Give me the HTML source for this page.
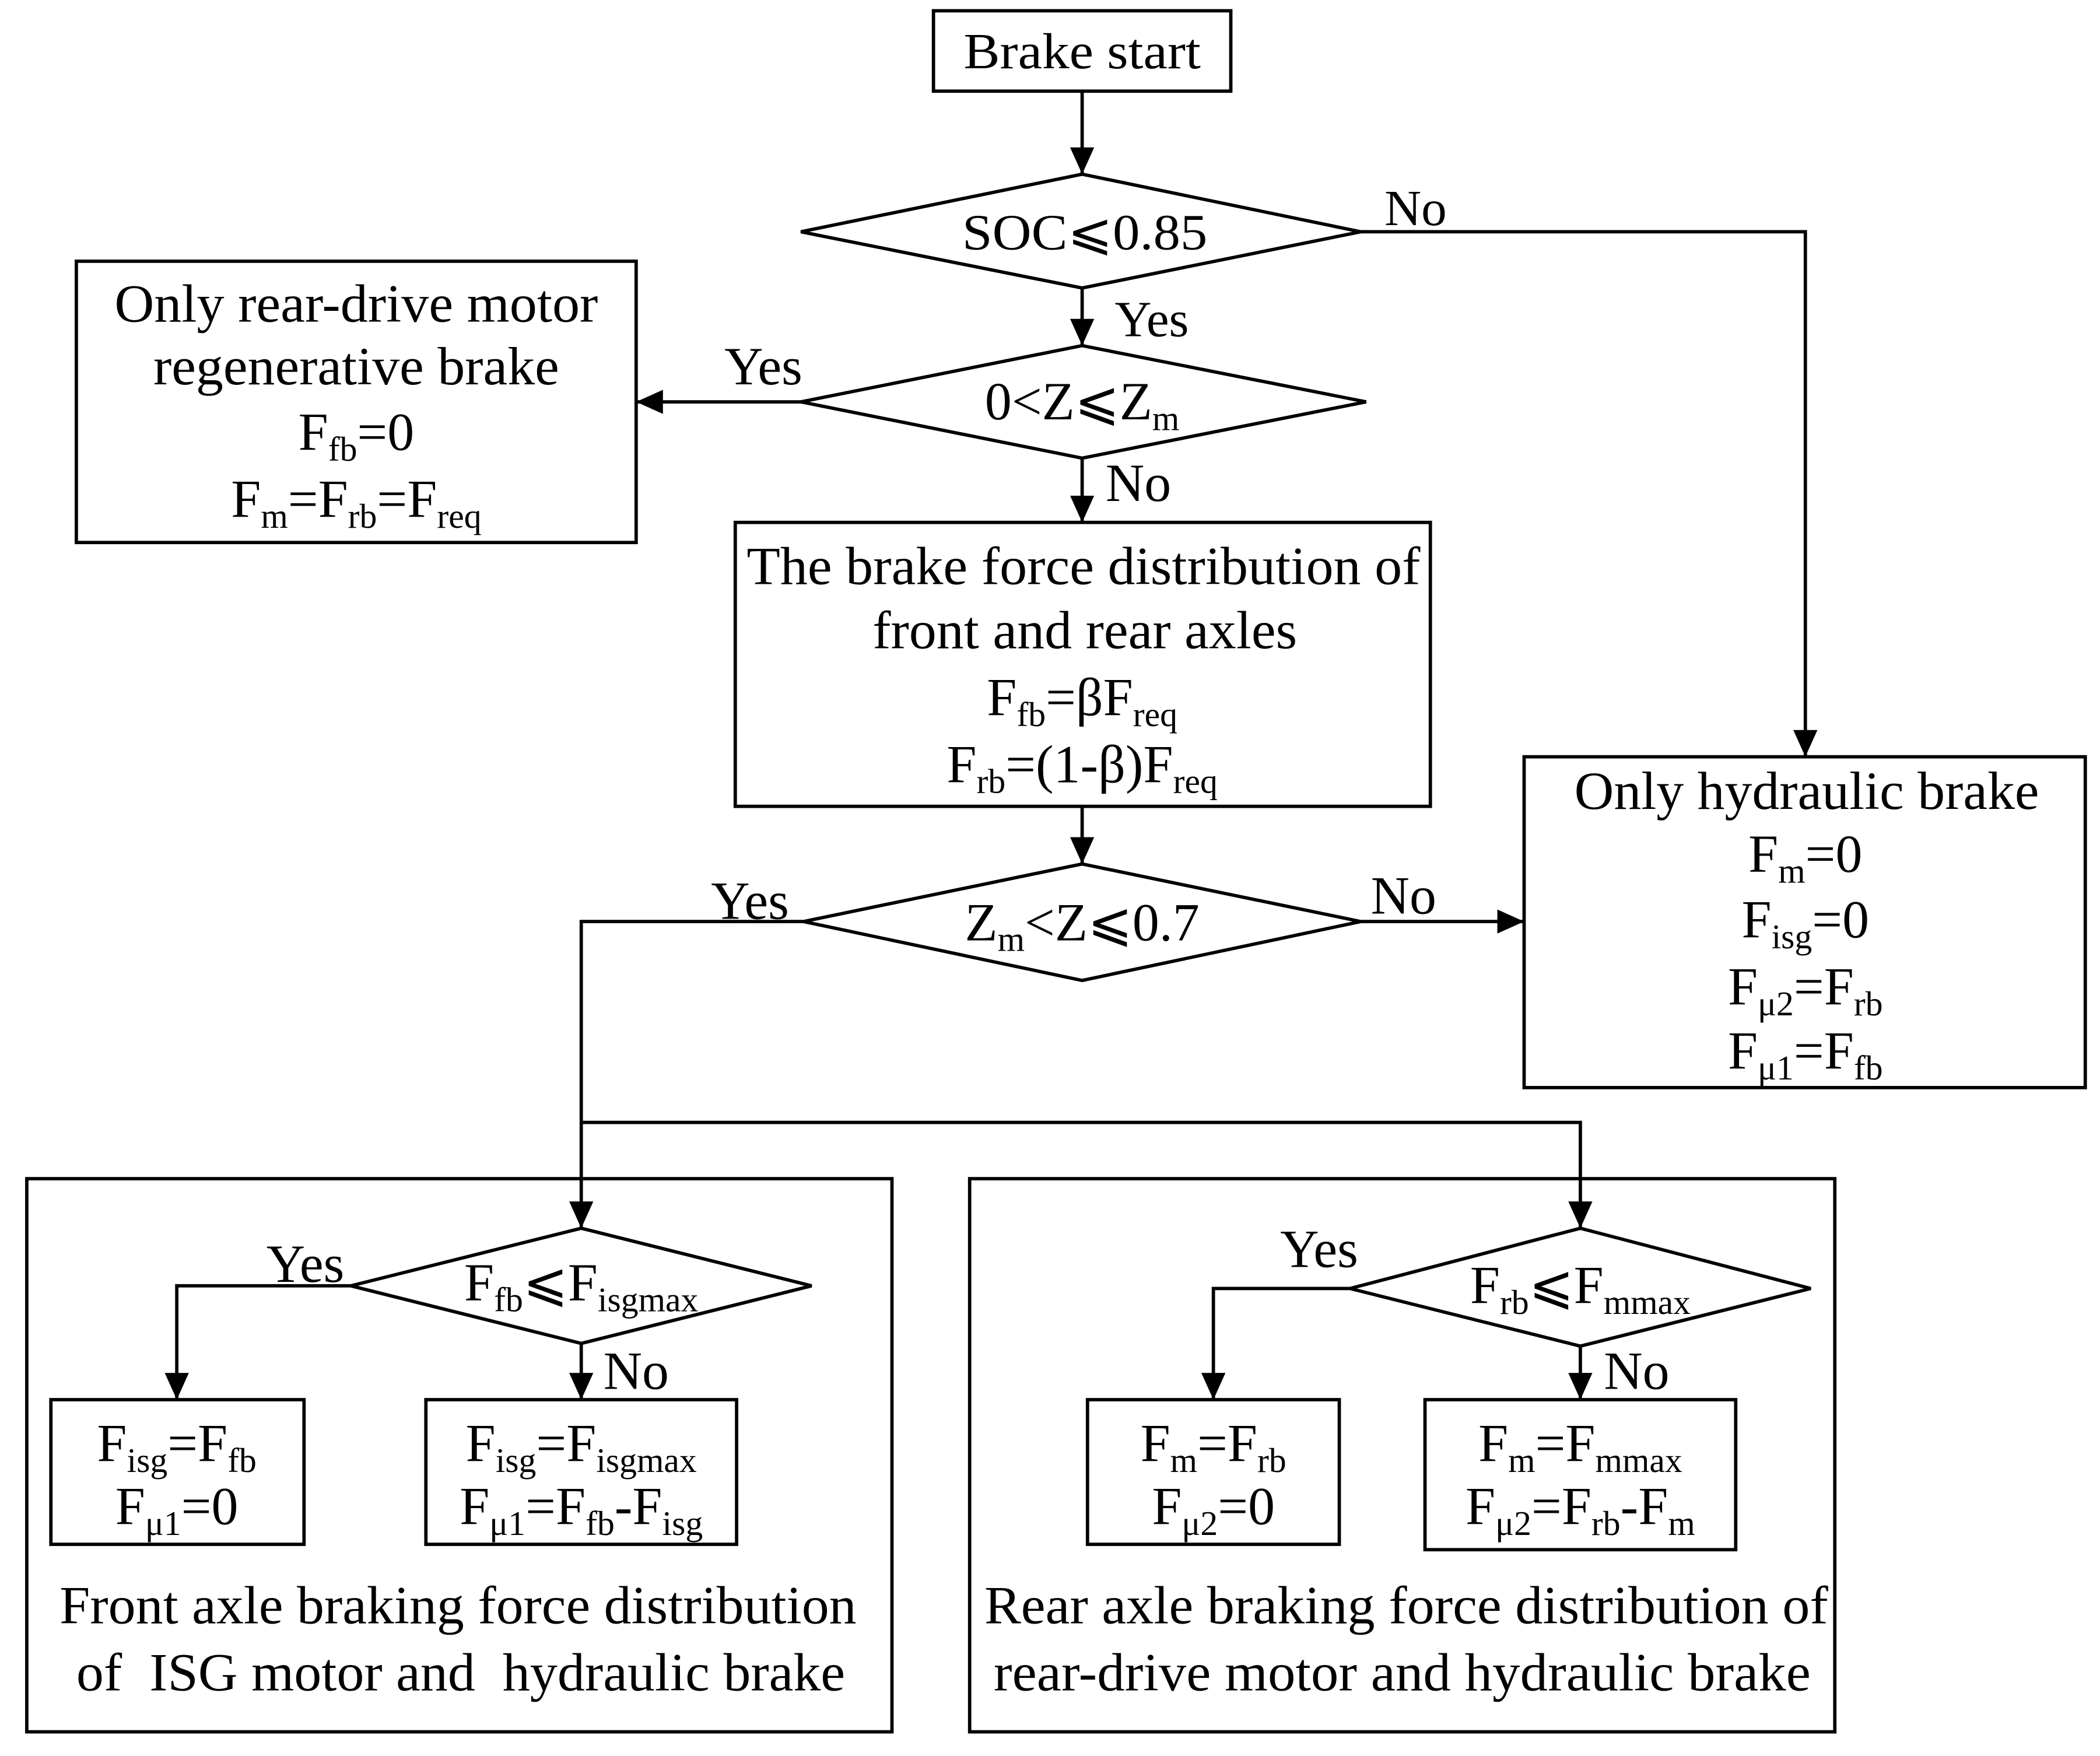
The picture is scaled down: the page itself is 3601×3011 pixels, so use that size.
<!DOCTYPE html>
<html><head><meta charset="utf-8"><style>html,body{margin:0;padding:0;background:#fff}svg{display:block}</style></head><body>
<svg xmlns="http://www.w3.org/2000/svg" width="3601" height="3011" viewBox="0 0 1568 1311">
<defs><marker id="m" viewBox="0 0 10 10" refX="10" refY="5" markerWidth="20" markerHeight="18" markerUnits="userSpaceOnUse" orient="auto" preserveAspectRatio="none"><path d="M0,0L10,5L0,10z" fill="#000"/></marker></defs>
<g fill="none" stroke="#000" stroke-width="2.5">
<rect x="697" y="8" width="222" height="60"/>
<polygon points="598,173 808,130 1016,173 808,215"/>
<polygon points="598,300 808,258 1020,300 808,342"/>
<rect x="57" y="195" width="418" height="210"/>
<rect x="549" y="390" width="519" height="212"/>
<polygon points="600,688 808,645 1016,688 808,732"/>
<rect x="1138" y="565" width="419" height="247"/>
<rect x="20" y="880" width="646" height="413"/>
<rect x="724" y="880" width="646" height="413"/>
<polygon points="262,960 434,917 606,960 434,1003"/>
<polygon points="1008,962 1180,917 1352,962 1180,1005"/>
<rect x="38" y="1045" width="189" height="108"/>
<rect x="318" y="1045" width="232" height="108"/>
<rect x="812" y="1045" width="188" height="108"/>
<rect x="1064" y="1045" width="232" height="112"/>
<g marker-end="url(#m)">
<path d="M808,68V130"/>
<path d="M1016,173H1348V565"/>
<path d="M808,215V258"/>
<path d="M598,300H475"/>
<path d="M808,342V390"/>
<path d="M808,602V645"/>
<path d="M1016,688H1138"/>
<path d="M600,688H434V917"/>
<path d="M434,838H1180V917"/>
<path d="M262,960H132V1045"/>
<path d="M434,1003V1045"/>
<path d="M1008,962H906V1045"/>
<path d="M1180,1005V1045"/>
</g></g>
<g font-family="Liberation Serif, serif" font-size="38" text-anchor="middle" fill="#000" lengthAdjust="spacingAndGlyphs">
<text x="808" y="51" textLength="177" lengthAdjust="spacingAndGlyphs">Brake start</text>
<text x="810" y="186" textLength="183" lengthAdjust="spacingAndGlyphs">SOC⩽0.85</text>
<text x="1057" y="168">No</text>
<text x="860" y="251">Yes</text>
<g font-size="40">
<text x="808" y="313">0&lt;Z⩽Z<tspan font-size="26" dy="8">m</tspan></text>
<text x="570" y="287">Yes</text>
<text x="266" y="240" textLength="361" lengthAdjust="spacingAndGlyphs">Only rear-drive motor</text>
<text x="266" y="287" textLength="303" lengthAdjust="spacingAndGlyphs">regenerative brake</text>
<text x="266" y="336">F<tspan font-size="26" dy="8">fb</tspan><tspan dy="-8">=0</tspan></text>
<text x="266" y="386">F<tspan font-size="26" dy="8">m</tspan><tspan dy="-8">=F</tspan><tspan font-size="26" dy="8">rb</tspan><tspan dy="-8">=F</tspan><tspan font-size="26" dy="8">req</tspan></text>
<text x="850" y="374">No</text>
<text x="809" y="436" textLength="503" lengthAdjust="spacingAndGlyphs">The brake force distribution of</text>
<text x="810" y="484" textLength="317" lengthAdjust="spacingAndGlyphs">front and rear axles</text>
<text x="808" y="534">F<tspan font-size="26" dy="8">fb</tspan><tspan dy="-8">=βF</tspan><tspan font-size="26" dy="8">req</tspan></text>
<text x="808" y="584">F<tspan font-size="26" dy="8">rb</tspan><tspan dy="-8">=(1-β)F</tspan><tspan font-size="26" dy="8">req</tspan></text>
<text x="808" y="702">Z<tspan font-size="26" dy="8">m</tspan><tspan dy="-8">&lt;Z⩽0.7</tspan></text>
<text x="1048" y="682">No</text>
<text x="560" y="686">Yes</text>
<text x="1349" y="604" textLength="347" lengthAdjust="spacingAndGlyphs">Only hydraulic brake</text>
<text x="1348" y="651">F<tspan font-size="26" dy="8">m</tspan><tspan dy="-8">=0</tspan></text>
<text x="1348" y="700">F<tspan font-size="26" dy="8">isg</tspan><tspan dy="-8">=0</tspan></text>
<text x="1348" y="750">F<tspan font-size="26" dy="8">μ2</tspan><tspan dy="-8">=F</tspan><tspan font-size="26" dy="8">rb</tspan></text>
<text x="1348" y="798">F<tspan font-size="26" dy="8">μ1</tspan><tspan dy="-8">=F</tspan><tspan font-size="26" dy="8">fb</tspan></text>
<text x="434" y="971">F<tspan font-size="26" dy="8">fb</tspan><tspan dy="-8">⩽F</tspan><tspan font-size="26" dy="8">isgmax</tspan></text>
<text x="228" y="957">Yes</text>
<text x="475" y="1037">No</text>
<text x="132" y="1091">F<tspan font-size="26" dy="8">isg</tspan><tspan dy="-8">=F</tspan><tspan font-size="26" dy="8">fb</tspan></text>
<text x="132" y="1138">F<tspan font-size="26" dy="8">μ1</tspan><tspan dy="-8">=0</tspan></text>
<text x="434" y="1091">F<tspan font-size="26" dy="8">isg</tspan><tspan dy="-8">=F</tspan><tspan font-size="26" dy="8">isgmax</tspan></text>
<text x="434" y="1138">F<tspan font-size="26" dy="8">μ1</tspan><tspan dy="-8">=F</tspan><tspan font-size="26" dy="8">fb</tspan><tspan dy="-8">-F</tspan><tspan font-size="26" dy="8">isg</tspan></text>
<text x="1180" y="973">F<tspan font-size="26" dy="8">rb</tspan><tspan dy="-8">⩽F</tspan><tspan font-size="26" dy="8">mmax</tspan></text>
<text x="985" y="946">Yes</text>
<text x="1222" y="1037">No</text>
<text x="906" y="1091">F<tspan font-size="26" dy="8">m</tspan><tspan dy="-8">=F</tspan><tspan font-size="26" dy="8">rb</tspan></text>
<text x="906" y="1138">F<tspan font-size="26" dy="8">μ2</tspan><tspan dy="-8">=0</tspan></text>
<text x="1180" y="1091">F<tspan font-size="26" dy="8">m</tspan><tspan dy="-8">=F</tspan><tspan font-size="26" dy="8">mmax</tspan></text>
<text x="1180" y="1138">F<tspan font-size="26" dy="8">μ2</tspan><tspan dy="-8">=F</tspan><tspan font-size="26" dy="8">rb</tspan><tspan dy="-8">-F</tspan><tspan font-size="26" dy="8">m</tspan></text>
<text x="342" y="1212" textLength="595" lengthAdjust="spacingAndGlyphs">Front axle braking force distribution</text>
<text x="344" y="1262" textLength="574" lengthAdjust="spacingAndGlyphs" xml:space="preserve">of  ISG motor and  hydraulic brake</text>
<text x="1050" y="1212" textLength="630" lengthAdjust="spacingAndGlyphs">Rear axle braking force distribution of</text>
<text x="1047" y="1262" textLength="610" lengthAdjust="spacingAndGlyphs">rear-drive motor and hydraulic brake</text>
</g></g>
</svg>
</body></html>
